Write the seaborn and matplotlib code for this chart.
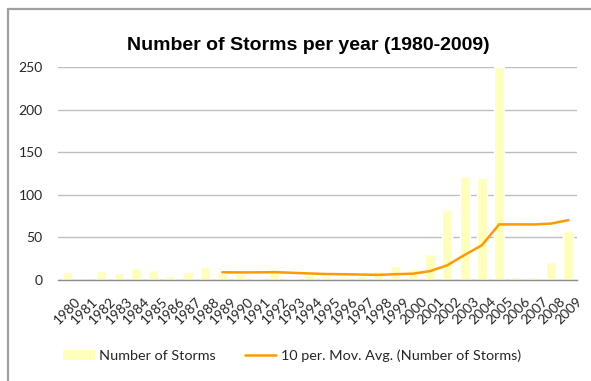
import matplotlib
matplotlib.use("Agg")
import matplotlib.pyplot as plt
from matplotlib.lines import Line2D
from matplotlib.patches import Patch
from matplotlib.transforms import ScaledTranslation
import numpy as np
import pandas as pd
import seaborn as sns

# Storm counts per year
years = [str(y) for y in range(1980, 2010)]
storms = [9, 0, 11, 8, 14, 12, 5, 9, 15, 8,
          7, 1, 13, 1, 6, 5, 3, 5, 11, 16,
          13, 31, 82, 122, 120, 250, 3, 4, 21, 57]
yticks = [0, 50, 100, 150, 200, 250]

bar_color = "#FFFFBC"
line_color = "#FF9A00"
text_color = "#262626"

df = pd.DataFrame({"year": years, "storms": storms})
df["pos"] = np.arange(len(df))
# 10-period moving average, as in a spreadsheet trendline
df["mov_avg"] = df["storms"].rolling(10).mean()

sns.set_theme(style="white")
plt.rcParams["font.family"] = ["Lato", "DejaVu Sans"]

fig = plt.figure(figsize=(5.91, 3.81), dpi=100)
ax = fig.add_axes([58 / 591, 1 - 280 / 381, (577 - 58) / 591, (280 - 67) / 381])

sns.barplot(data=df, x="year", y="storms", color=bar_color, width=0.58,
            saturation=1, ax=ax, zorder=2)
sns.lineplot(data=df.dropna(), x="pos", y="mov_avg", color=line_color,
             linewidth=1.8, ax=ax, zorder=3)

ax.set_xlim(-0.5, len(years) - 0.5)
ax.set_ylim(0, 250)
ax.set_yticks(yticks)
ax.set_yticklabels([str(v) for v in yticks])
ax.set_xticks(df["pos"])
ax.set_xticklabels(years, rotation=45, ha="right", rotation_mode="anchor")
ax.set_xlabel("")
ax.set_ylabel("")

ax.grid(axis="y", color="#BEBEBE", linewidth=1.0, zorder=0)
ax.grid(axis="x", visible=False)
ax.set_axisbelow(True)
for side in ["top", "right", "left"]:
    ax.spines[side].set_visible(False)
ax.spines["bottom"].set_color("#8C8C8C")
ax.spines["bottom"].set_linewidth(1.0)
ax.spines["bottom"].set_zorder(4)

ax.tick_params(axis="y", length=0, pad=11, labelsize=10, labelcolor=text_color)
ax.tick_params(axis="x", length=0, pad=11, labelsize=10, labelcolor=text_color)
for lab in ax.get_xticklabels():
    lab.set_transform(lab.get_transform() + ScaledTranslation(8 / 100, 0, fig.dpi_scale_trans))

fig.text(308 / 591, 1 - 45 / 381, "Number of Storms per year (1980-2009)",
         ha="center", va="center", fontsize=14, fontweight="bold",
         family=["Liberation Sans", "DejaVu Sans"], color="#000000")

handles = [Patch(facecolor=bar_color, edgecolor="none"),
           Line2D([0], [0], color=line_color, linewidth=1.8)]
labels = ["Number of Storms", "10 per. Mov. Avg. (Number of Storms)"]
fig.legend(handles, labels, loc="center", bbox_to_anchor=(292 / 591, 1 - 356 / 381),
           ncol=2, frameon=False, fontsize=10.4, handlelength=2.2,
           handletextpad=0.3, columnspacing=2.0, labelcolor=text_color)

# chart frame on the left and top edges
fig.add_artist(Line2D([7.5 / 591, 7.5 / 591], [0, 1 - 8.5 / 381],
                      transform=fig.transFigure, color="#A0A0A0", linewidth=1.6))
fig.add_artist(Line2D([7.5 / 591, 1], [1 - 8.5 / 381, 1 - 8.5 / 381],
                      transform=fig.transFigure, color="#A0A0A0", linewidth=1.6))

fig.savefig("out.png", dpi=100)
